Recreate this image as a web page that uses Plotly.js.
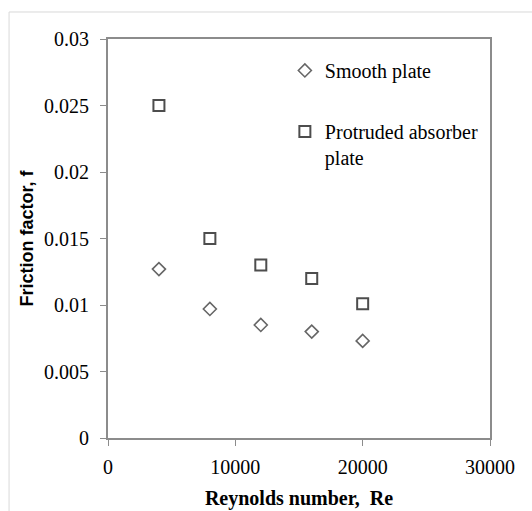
<!DOCTYPE html>
<html>
<head>
<meta charset="utf-8">
<script src="https://cdn.plot.ly/plotly-3.0.1.min.js"></script>
<style>
html,body{margin:0;padding:0;background:#fff;}
#chart{width:532px;height:511px;}
</style>
</head>
<body>
<div id="chart"></div>
<script>
const reynolds = [4000, 8000, 12000, 16000, 20000];
const smoothPlate = [0.0127, 0.0097, 0.0085, 0.0080, 0.0073];
const protrudedPlate = [0.0250, 0.0150, 0.0130, 0.0120, 0.0101];
const seriesNames = ["Smooth plate", "Protruded absorber<br>plate"];
const xTickVals = [0, 10000, 20000, 30000];
const xTickText = ["0", "10000", "20000", "30000"];
const yTickVals = [0, 0.005, 0.01, 0.015, 0.02, 0.025, 0.03];
const yTickText = ["0", "0.005", "0.01", "0.015", "0.02", "0.025", "0.03"];

const serif = "'Liberation Serif', 'Times New Roman', serif";

const traces = [
  {
    x: reynolds, y: smoothPlate, name: seriesNames[0], type: "scatter", mode: "markers",
    legendgroup: "a",
    marker: {symbol: "diamond", size: 10, color: "#ffffff", line: {color: "#666666", width: 1.6}}
  },
  {
    x: reynolds, y: protrudedPlate, name: seriesNames[1], type: "scatter", mode: "markers",
    legendgroup: "b",
    marker: {symbol: "square", size: 11, color: "#ffffff", line: {color: "#4d4d4d", width: 2}}
  }
];

const layout = {
  width: 532, height: 511,
  margin: {l: 108, r: 42, t: 39, b: 73},
  paper_bgcolor: "#ffffff", plot_bgcolor: "#ffffff",
  font: {family: serif},
  showlegend: true,
  legend: {
    x: 0.463, y: 0.97, xanchor: "left", yanchor: "top",
    bgcolor: "rgba(0,0,0,0)", borderwidth: 0,
    font: {family: serif, size: 20, color: "#000"},
    traceorder: "grouped", tracegroupgap: 32, valign: "top",
    itemwidth: 30
  },
  xaxis: {
    range: [0, 30000], tickvals: xTickVals, ticktext: xTickText,
    showgrid: false, zeroline: false,
    showline: true, linecolor: "#8c8c8c", linewidth: 2, mirror: true,
    ticks: "outside", ticklen: 6, tickcolor: "#8c8c8c", tickwidth: 1,
    tickfont: {family: serif, size: 20, color: "#000"},
    ticklabelstandoff: 4,
    title: {text: "<b>Reynolds number,  Re</b>", font: {family: serif, size: 20, color: "#000"}, standoff: 14}
  },
  yaxis: {
    range: [0, 0.03], tickvals: yTickVals, ticktext: yTickText,
    showgrid: false, zeroline: false,
    showline: true, linecolor: "#8c8c8c", linewidth: 2, mirror: true,
    ticks: "outside", ticklen: 6, tickcolor: "#8c8c8c", tickwidth: 1,
    tickfont: {family: serif, size: 20, color: "#000"},
    ticklabelstandoff: 7,
    title: {text: "<b>Friction factor, f</b>", font: {family: "'Liberation Sans', Arial, sans-serif", size: 18, color: "#000"}, standoff: 6}
  },
  shapes: [
    {type: "rect", xref: "paper", yref: "paper", x0: -0.259, x1: 1.3, y0: -0.4, y1: 1.0677,
     line: {color: "#d9d9d9", width: 1}, fillcolor: "rgba(0,0,0,0)", layer: "below"}
  ]
};

Plotly.newPlot("chart", traces, layout, {displayModeBar: false, staticPlot: true});
</script>
</body>
</html>
